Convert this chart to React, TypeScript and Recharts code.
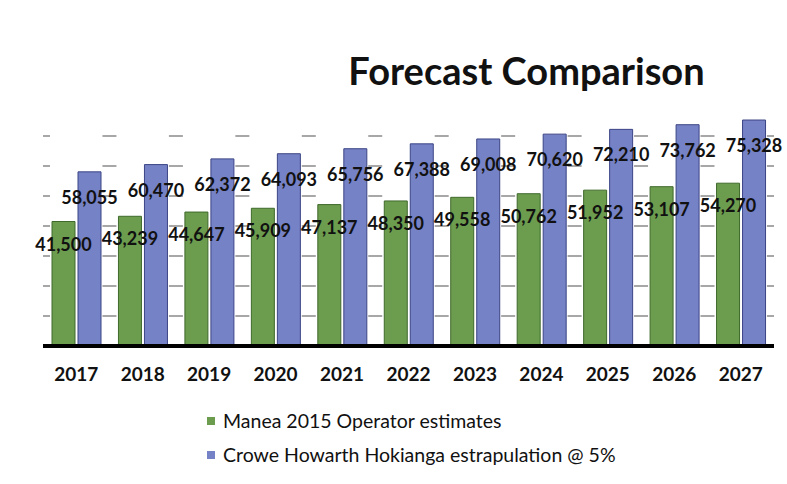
import { BarChart, Bar, XAxis, YAxis, CartesianGrid, LabelList } from 'recharts';

const years = ['2017', '2018', '2019', '2020', '2021', '2022', '2023', '2024', '2025', '2026', '2027'];
const maneaEstimates = [41500, 43239, 44647, 45909, 47137, 48350, 49558, 50762, 51952, 53107, 54270];
const croweEstimates = [58055, 60470, 62372, 64093, 65756, 67388, 69008, 70620, 72210, 73762, 75328];
const gridTicks = [0, 10000, 20000, 30000, 40000, 50000, 60000, 70000];

const MANEA_LABEL = 'Manea 2015 Operator estimates';
const CROWE_LABEL = 'Crowe Howarth Hokianga estrapulation @ 5%';

const GREEN = '#6c9c4e';
const BLUE = '#7682c6';
const FONT = 'Lato, "Open Sans", sans-serif';

const data = years.map((year, i) => ({
  year,
  manea: maneaEstimates[i],
  crowe: croweEstimates[i],
}));

const fmt = (v: number) => v.toLocaleString('en-US');

// value label sits a little below the top of its own bar
const makeValueLabel = (drop: number) => (props: any) => {
  const { x, y, width, value } = props;
  return (
    <text
      x={x + width / 2}
      y={y + drop}
      textAnchor="middle"
      dominantBaseline="central"
      fontFamily={FONT}
      fontWeight={700}
      fontSize={18}
      fill="#111"
    >
      {fmt(value)}
    </text>
  );
};

const ManeaValue = makeValueLabel(22);
const CroweValue = makeValueLabel(25);

function YearTick(props: any) {
  const { x, y, payload } = props;
  return (
    <text x={x} y={y + 35} textAnchor="middle" fontFamily={FONT} fontWeight={700} fontSize={19} fill="#111">
      {payload.value}
    </text>
  );
}

function LegendRow({ color, label, top }: { color: string; label: string; top: number }) {
  return (
    <div style={{ position: 'absolute', left: 207, top, display: 'flex', alignItems: 'center' }}>
      <span style={{ width: 8, height: 8, background: color, display: 'inline-block', marginRight: 8 }} />
      <span style={{ fontFamily: FONT, fontSize: 19.5, color: '#111', lineHeight: '22px' }}>{label}</span>
    </div>
  );
}

export default function App() {
  return (
    <div style={{ position: 'absolute', left: 0, top: 0, width: 787, height: 484, background: '#fff' }}>
      <div
        style={{
          position: 'absolute',
          left: 0,
          width: 1053,
          top: 48,
          textAlign: 'center',
          fontFamily: FONT,
          fontWeight: 700,
          fontSize: 38,
          color: '#111',
          lineHeight: '44px',
        }}
      >
        Forecast Comparison
      </div>
      <BarChart
        width={787}
        height={484}
        data={data}
        margin={{ top: 106, right: 13, bottom: 108, left: 43 }}
        barSize={23}
        barGap={3}
      >
        <CartesianGrid
          vertical={false}
          horizontalValues={gridTicks}
          stroke="#8a8a8a"
          strokeWidth={1.5}
          strokeDasharray="14 52.45"
          strokeDashoffset={7}
        />
        <XAxis
          dataKey="year"
          height={30}
          tickLine={false}
          tickSize={0}
          tickMargin={0}
          axisLine={{ stroke: '#000', strokeWidth: 4 }}
          tick={<YearTick />}
          interval={0}
        />
        <YAxis hide domain={[0, 80000]} ticks={gridTicks} />
        <Bar dataKey="manea" name={MANEA_LABEL} fill={GREEN} stroke="#3f6a2c" strokeWidth={1} isAnimationActive={false}>
          <LabelList dataKey="manea" content={ManeaValue} />
        </Bar>
        <Bar dataKey="crowe" name={CROWE_LABEL} fill={BLUE} stroke="#3b4585" strokeWidth={1} isAnimationActive={false}>
          <LabelList dataKey="crowe" content={CroweValue} />
        </Bar>
      </BarChart>
      <LegendRow color={GREEN} label={MANEA_LABEL} top={410} />
      <LegendRow color={BLUE} label={CROWE_LABEL} top={444} />
    </div>
  );
}
